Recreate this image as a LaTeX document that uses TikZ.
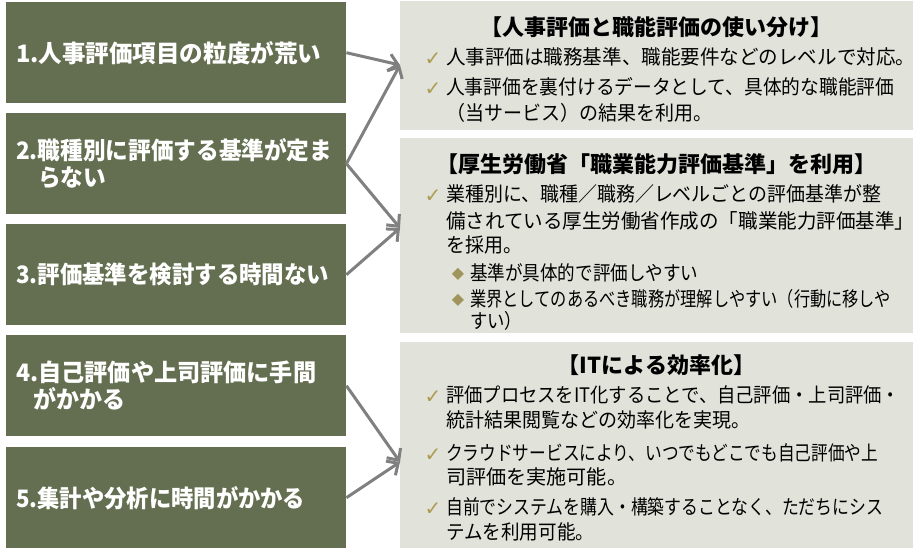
\documentclass[tikz,border=0pt]{standalone}
\usepackage{fontspec}
\usepackage{graphicx}
\setmainfont{Noto Sans CJK JP}
\newfontfamily\symfont{DejaVu Sans}
\usetikzlibrary{arrows.meta}
\definecolor{leftfill}{HTML}{636F50}
\definecolor{rightfill}{HTML}{E1E3DA}
\definecolor{arrowgray}{HTML}{808080}
\definecolor{checkgold}{HTML}{AC9C52}
\definecolor{diagold}{HTML}{A0955C}
\newcommand{\fitw}[2]{\resizebox{#1}{\height}{#2}}
\begin{document}
\begin{tikzpicture}[x=1pt,y=-1pt,
  leftbox/.style={fill=leftfill, draw=none, anchor=north west, minimum width=340pt, minimum height=101pt,
    inner xsep=10pt, inner ysep=0pt, text width=320pt, align=left, text=white,
    font=\fontsize{24}{27}\selectfont\bfseries},
  rightbox/.style={fill=rightfill, draw=none, anchor=north west, minimum width=513pt, inner sep=0pt},
  ttl/.style={anchor=base, inner sep=0pt, font=\fontsize{22}{25}\selectfont\bfseries},
  body/.style={anchor=base west, inner sep=0pt, font=\fontsize{20}{23}\selectfont},
  chk/.style={anchor=center, inner sep=0pt, text=checkgold, font=\symfont\fontsize{20}{20}\selectfont},
  dia/.style={anchor=center, inner sep=0pt, text=diagold, font=\symfont\fontsize{16}{16}\selectfont},
  conn/.style={draw=arrowgray, line width=3pt, -{Straight Barb[length=9pt,width=17pt]}}
]
\useasboundingbox (0,0) rectangle (923,558);
\fill[white] (0,0) rectangle (923,558);

% left boxes
\node[leftbox] (p1) at (6,2) {\fitw{305pt}{1.人事評価項目の粒度が荒い}};
\node[leftbox] (p2) at (6,113) {\fitw{316pt}{2.職種別に評価する基準が定ま}\\\hspace*{22pt}\fitw{68pt}{らない}};
\node[leftbox] (p3) at (6,224) {\fitw{313pt}{3.評価基準を検討する時間ない}};
\node[leftbox] (p4) at (6,335) {\fitw{300pt}{4.自己評価や上司評価に手間}\\\hspace*{17pt}\fitw{92pt}{がかかる}};
\node[leftbox] (p5) at (6,447) {\fitw{289pt}{5.集計や分析に時間がかかる}};

% right boxes
\node[rightbox, minimum height=129pt] (A) at (400,1) {};
\node[rightbox, minimum height=195pt] (B) at (400,138) {};
\node[rightbox, minimum height=206pt] (C) at (400,342) {};

\coordinate (tA) at (400,65);
\coordinate (tB) at (400,228);
\coordinate (tC) at (400,462);

% connectors
\draw[conn] (p1.east) -- (tA);
\draw[conn] (p2.east) -- (tA);
\draw[conn] (p2.east) -- (tB);
\draw[conn] (p3.east) -- (tB);
\draw[conn] (p4.east) -- (tC);
\draw[conn] (p5.east) -- (tC);

% box A
\node[ttl] (a0) at (656.5,35) {【人事評価と職能評価の使い分け】};
\node[chk] (ac1) at (433,59) {✓};
\node[body] (a1) at (446,64) {\fitw{469pt}{人事評価は職務基準、職能要件などのレベルで対応。}};
\node[chk] (ac2) at (433,89) {✓};
\node[body] (a2) at (446,94) {\fitw{448pt}{人事評価を裏付けるデータとして、具体的な職能評価}};
\node[body] (a3) at (446,120) {\fitw{266pt}{（当サービス）の結果を利用。}};

% box B
\node[ttl] (b0) at (656.5,172) {【厚生労働省「職業能力評価基準」を利用】};
\node[chk] (bc1) at (433,196) {✓};
\node[body] (b1) at (446,201) {\fitw{435pt}{業種別に、職種／職務／レベルごとの評価基準が整}};
\node[body] (b2) at (446,228) {\fitw{468pt}{備されている厚生労働省作成の「職業能力評価基準」}};
\node[body] (b3) at (446,252) {\fitw{76pt}{を採用。}};
\node[dia] (bd1) at (458,274) {◆};
\node[body] (b4) at (470,280) {\fitw{228pt}{基準が具体的で評価しやすい}};
\node[dia] (bd2) at (458,300) {◆};
\node[body] (b5) at (470,306) {\fitw{421pt}{業界としてのあるべき職務が理解しやすい（行動に移しや}};
\node[body] (b6) at (470,328) {\fitw{52pt}{すい）}};

% box C
\node[ttl] (c0) at (656.5,373) {【ITによる効率化】};
\node[chk] (cc1) at (433,397) {✓};
\node[body] (c1) at (446,402) {\fitw{454pt}{評価プロセスをIT化することで、自己評価・上司評価・}};
\node[body] (c2) at (446,427) {\fitw{304pt}{統計結果閲覧などの効率化を実現。}};
\node[chk] (cc2) at (433,455) {✓};
\node[body] (c3) at (446,460) {\fitw{432pt}{クラウドサービスにより、いつでもどこでも自己評価や上}};
\node[body] (c4) at (446,484) {\fitw{181pt}{司評価を実施可能。}};
\node[chk] (cc3) at (433,509) {✓};
\node[body] (c5) at (446,514) {\fitw{437pt}{自前でシステムを購入・構築することなく、ただちにシス}};
\node[body] (c6) at (446,539) {\fitw{148pt}{テムを利用可能。}};
\end{tikzpicture}
\end{document}
